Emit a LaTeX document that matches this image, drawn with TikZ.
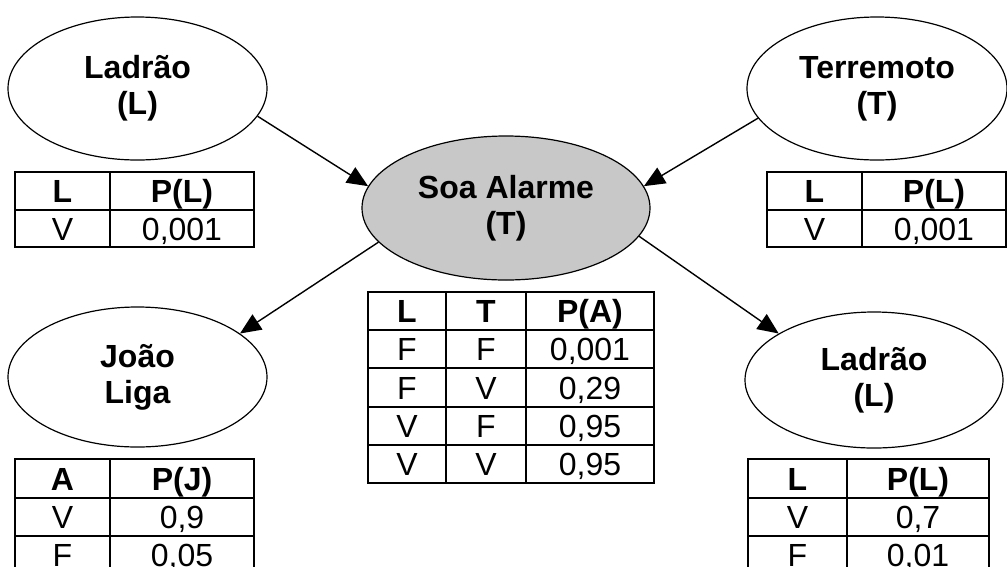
\documentclass[tikz,border=0pt]{standalone}
\usepackage{fontspec}
\setmainfont{Liberation Sans}
\usetikzlibrary{shapes.geometric,arrows.meta}
\definecolor{nodegray}{RGB}{200,200,200}

% one table cell: name, x1, y1, x2, y2, text
\newcommand\tcell[6]{%
  \node[tcell, minimum width={(#4-#2)*1pt}, minimum height={(#5-#3)*1pt}, anchor=north west] (#1) at (#2,#3) {#6};}

\tikzset{
  bnode/.style={ellipse, draw, line width=1.2pt, inner sep=0pt, align=center,
    font=\bfseries\fontsize{32}{36}\selectfont},
  tcell/.style={draw, line width=2pt, inner sep=0pt, text height=24pt, text depth=1pt,
    font=\fontsize{32}{36}\selectfont},
  link/.style={line width=1.4pt, -{Triangle[length=21pt,width=18pt]}}
}

\begin{document}
\begin{tikzpicture}[x=1pt,y=-1pt]
\useasboundingbox (0,0) rectangle (1007,566);
\clip (0,0) rectangle (1007,566);

% network nodes
\node[bnode, minimum width=259pt, minimum height=143pt] (lad) at (137.5,88.5) {Ladrão\\(L)};
\node[bnode, minimum width=260pt, minimum height=143pt] (ter) at (877,88.5) {Terremoto\\(T)};
\node[bnode, fill=nodegray, minimum width=288pt, minimum height=144pt] (alm) at (506,208) {Soa Alarme\\(T)};
\node[bnode, minimum width=259pt, minimum height=140pt] (joa) at (137.5,377) {João\\Liga};
\node[bnode, minimum width=258pt, minimum height=136pt] (lad2) at (874,380) {Ladrão\\(L)};

% edges
\draw[link] (lad.-13) -- (alm.171);
\draw[link] (ter.-166) -- (alm.9);
\draw[link] (alm.195) -- (joa.23);
\draw[link] (alm.-12) -- (lad2.154);

% table for Ladrão (top left)
\tcell{tla}{14}{171}{109}{209}{\bfseries L}
\tcell{tlb}{109}{171}{253}{209}{\bfseries P(L)}
\tcell{tlc}{14}{209}{109}{246}{V}
\tcell{tld}{109}{209}{253}{246}{0,001}

% table for Terremoto (top right)
\tcell{tra}{766}{171}{861}{209}{\bfseries L}
\tcell{trb}{861}{171}{1005}{209}{\bfseries P(L)}
\tcell{trc}{766}{209}{861}{246}{V}
\tcell{trd}{861}{209}{1005}{246}{0,001}

% table for Soa Alarme (centre)
\tcell{ca1}{367}{291}{445}{329}{\bfseries L}
\tcell{ca2}{445}{291}{525}{329}{\bfseries T}
\tcell{ca3}{525}{291}{653}{329}{\bfseries P(A)}
\tcell{cb1}{367}{329}{445}{367}{F}
\tcell{cb2}{445}{329}{525}{367}{F}
\tcell{cb3}{525}{329}{653}{367}{0,001}
\tcell{cc1}{367}{367}{445}{406}{F}
\tcell{cc2}{445}{367}{525}{406}{V}
\tcell{cc3}{525}{367}{653}{406}{0,29}
\tcell{cd1}{367}{406}{445}{444}{V}
\tcell{cd2}{445}{406}{525}{444}{F}
\tcell{cd3}{525}{406}{653}{444}{0,95}
\tcell{ce1}{367}{444}{445}{482}{V}
\tcell{ce2}{445}{444}{525}{482}{V}
\tcell{ce3}{525}{444}{653}{482}{0,95}

% table for João Liga (bottom left)
\tcell{bla}{14}{458}{109}{497}{\bfseries A}
\tcell{blb}{109}{458}{253}{497}{\bfseries P(J)}
\tcell{blc}{14}{497}{109}{535}{V}
\tcell{bld}{109}{497}{253}{535}{0,9}
\tcell{ble}{14}{535}{109}{573}{F}
\tcell{blf}{109}{535}{253}{573}{0,05}

% table for Ladrão (bottom right)
\tcell{bra}{747}{458}{846}{497}{\bfseries L}
\tcell{brb}{846}{458}{988}{497}{\bfseries P(L)}
\tcell{brc}{747}{497}{846}{535}{V}
\tcell{brd}{846}{497}{988}{535}{0,7}
\tcell{bre}{747}{535}{846}{573}{F}
\tcell{brf}{846}{535}{988}{573}{0,01}
\end{tikzpicture}
\end{document}
